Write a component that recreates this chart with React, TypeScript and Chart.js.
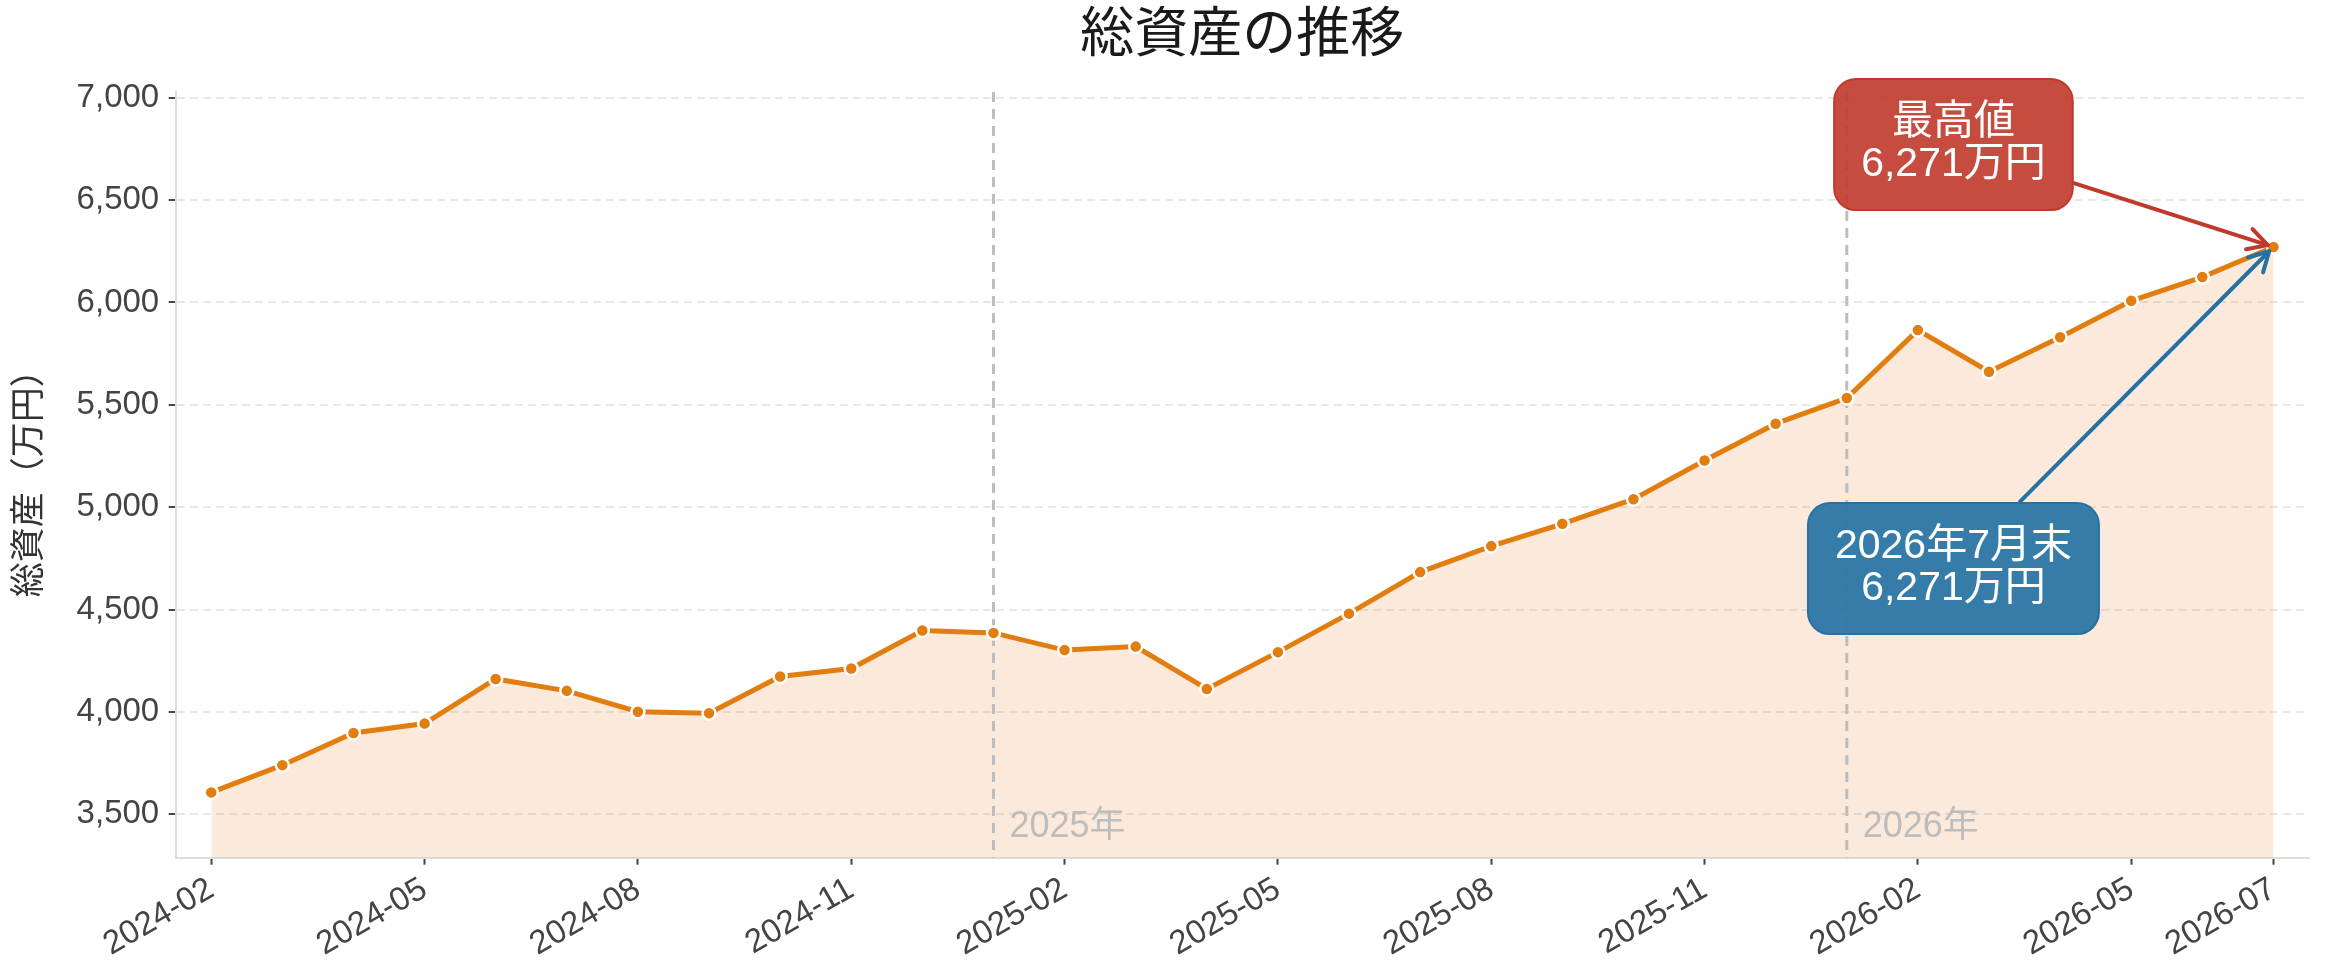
import { useEffect, useRef } from 'react';
import { Chart, registerables, type Plugin } from 'chart.js';

Chart.register(...registerables);

const FONT = '"Liberation Sans", "Noto Sans CJK JP", sans-serif';

const months = [
  '2024-02', '2024-03', '2024-04', '2024-05', '2024-06', '2024-07', '2024-08', '2024-09', '2024-10', '2024-11',
  '2024-12', '2025-01', '2025-02', '2025-03', '2025-04', '2025-05', '2025-06', '2025-07', '2025-08', '2025-09',
  '2025-10', '2025-11', '2025-12', '2026-01', '2026-02', '2026-03', '2026-04', '2026-05', '2026-06', '2026-07'
];
const totalAssets = [
  3607, 3740, 3897, 3943, 4161, 4103, 4001, 3994, 4173, 4212,
  4398, 4386, 4302, 4319, 4112, 4292, 4480, 4683, 4810, 4919,
  5039, 5228, 5408, 5533, 5865, 5662, 5830, 6008, 6124, 6271
];
const xTickIdx = [0, 3, 6, 9, 12, 15, 18, 21, 24, 27, 29];
const yTicks = [3500, 4000, 4500, 5000, 5500, 6000, 6500, 7000];
const yearLineIdx = [11, 23];
const yearLabels = ['2025年', '2026年'];

const calloutTexts = [['最高値', '6,271万円'], ['2026年7月末', '6,271万円']];
const calloutX = [24.5, 24.5];
const calloutY = [6771, 4700];
const calloutFill = ['rgba(192,57,43,0.9)', 'rgba(40,116,166,0.93)'];
const calloutEdge = ['#c0392b', '#2a70a0'];
const calloutArrow = ['#c0392b', '#2471a3'];

const LINE = '#e27d10';

function drawArrow(ctx: CanvasRenderingContext2D, cx: number, cy: number, w: number, h: number, tx: number, ty: number, color: string) {
  const dx = tx - cx;
  const dy = ty - cy;
  const t = Math.min((w / 2) / Math.abs(dx), (h / 2) / Math.abs(dy));
  const sx = cx + dx * t;
  const sy = cy + dy * t;
  const len = Math.hypot(tx - sx, ty - sy);
  const ux = (tx - sx) / len;
  const uy = (ty - sy) / len;
  const ex = tx - ux * 6;
  const ey = ty - uy * 6;
  ctx.save();
  ctx.strokeStyle = color;
  ctx.lineWidth = 4;
  ctx.lineCap = 'round';
  ctx.lineJoin = 'round';
  ctx.beginPath();
  ctx.moveTo(sx + ux * 2, sy + uy * 2);
  ctx.lineTo(ex, ey);
  ctx.stroke();
  const a = Math.atan2(uy, ux);
  const head = 22;
  const spread = 0.5;
  ctx.beginPath();
  ctx.moveTo(ex - head * Math.cos(a - spread), ey - head * Math.sin(a - spread));
  ctx.lineTo(ex, ey);
  ctx.lineTo(ex - head * Math.cos(a + spread), ey - head * Math.sin(a + spread));
  ctx.stroke();
  ctx.restore();
}

// year dividers go over the fill but under the line and markers
const decorPlugin: Plugin<'line'> = {
  id: 'decor',
  beforeDatasetsDraw(chart) {
    const { ctx, chartArea, scales } = chart;
    ctx.save();
    yearLineIdx.forEach((idx, i) => {
      const x = scales.x.getPixelForValue(idx);
      ctx.strokeStyle = '#bdbdbd';
      ctx.lineWidth = 3;
      ctx.setLineDash([10, 7]);
      ctx.beginPath();
      ctx.moveTo(x, chartArea.top);
      ctx.lineTo(x, chartArea.bottom);
      ctx.stroke();
      ctx.fillStyle = '#bdbdbd';
      ctx.font = `36px ${FONT}`;
      ctx.textAlign = 'left';
      ctx.textBaseline = 'alphabetic';
      ctx.fillText(yearLabels[i], x + 16, chartArea.bottom - 21);
    });
    ctx.restore();
  },
  afterDatasetsDraw(chart) {
    const { ctx, scales } = chart;
    const last = totalAssets.length - 1;
    const tx = scales.x.getPixelForValue(last);
    const ty = scales.y.getPixelForValue(totalAssets[last]);
    ctx.save();
    ctx.font = `41px ${FONT}`;
    calloutTexts.forEach((lines, i) => {
      const cx = scales.x.getPixelForValue(calloutX[i]);
      const cy = scales.y.getPixelForValue(calloutY[i]);
      const tw = Math.max(...lines.map(l => ctx.measureText(l).width));
      const w = tw + 54;
      const h = 131;
      drawArrow(ctx, cx, cy, w, h, tx, ty, calloutArrow[i]);
      ctx.beginPath();
      ctx.roundRect(cx - w / 2, cy - h / 2, w, h, 22);
      ctx.fillStyle = calloutFill[i];
      ctx.fill();
      ctx.lineWidth = 2;
      ctx.strokeStyle = calloutEdge[i];
      ctx.stroke();
      ctx.fillStyle = '#ffffff';
      ctx.textAlign = 'center';
      ctx.textBaseline = 'middle';
      ctx.fillText(lines[0], cx, cy - 22);
      ctx.fillText(lines[1], cx, cy + 20);
    });
    ctx.restore();
  }
};

export default function App() {
  const canvasRef = useRef<HTMLCanvasElement>(null);
  const chartRef = useRef<Chart<'line'> | null>(null);

  useEffect(() => {
    document.body.style.margin = '0';
    document.body.style.overflow = 'hidden';
    chartRef.current?.destroy();
    const canvas = canvasRef.current;
    if (!canvas) {
      return;
    }

    chartRef.current = new Chart(canvas, {
      type: 'line',
      data: {
        labels: months,
        datasets: [
          {
            data: totalAssets.map((v, i) => ({ x: i, y: v })),
            borderColor: LINE,
            borderWidth: 5,
            backgroundColor: 'rgba(230,126,34,0.16)',
            fill: 'start',
            pointRadius: 6.5,
            pointBorderWidth: 2.5,
            pointBackgroundColor: LINE,
            pointBorderColor: '#ffffff',
            tension: 0
          }
        ]
      },
      options: {
        responsive: false,
        animation: false,
        layout: { padding: { left: 0, right: 17, top: 0, bottom: 0 } },
        plugins: {
          legend: { display: false },
          tooltip: { enabled: false },
          filler: { drawTime: 'beforeDatasetsDraw' },
          title: {
            display: true,
            text: '総資産の推移',
            fullSize: false,
            color: '#1a1a1a',
            font: { family: FONT, size: 54, weight: 'normal' },
            padding: { top: 4.6, bottom: 22.6 }
          }
        },
        scales: {
          x: {
            type: 'linear',
            min: -0.5,
            max: 29.5,
            afterBuildTicks: scale => {
              scale.ticks = xTickIdx.map(v => ({ value: v }));
            },
            afterFit: scale => {
              scale.height = 117.3;
            },
            ticks: {
              autoSkip: false,
              minRotation: 30,
              maxRotation: 30,
              padding: 5,
              color: '#444444',
              font: { family: FONT, size: 33 },
              callback: value => months[Number(value)] ?? ''
            },
            grid: {
              drawOnChartArea: false,
              drawTicks: true,
              tickLength: 7,
              tickWidth: 2,
              tickColor: '#444444'
            },
            border: { color: '#dddddd', width: 2 }
          },
          y: {
            min: 3288,
            max: 7028,
            afterBuildTicks: scale => {
              scale.ticks = yTicks.map(v => ({ value: v }));
            },
            afterFit: scale => {
              scale.width = 175.7;
            },
            ticks: {
              padding: 9.5,
              color: '#444444',
              font: { family: FONT, size: 33 },
              callback: value => Number(value).toLocaleString('en-US')
            },
            grid: {
              color: '#e8e8e8',
              lineWidth: 2,
              tickLength: 7,
              tickWidth: 2,
              tickColor: '#444444',
              tickBorderDash: []
            },
            border: { color: '#dddddd', width: 2, dash: [8, 5] },
            title: {
              display: true,
              text: '総資産（万円）',
              color: '#333333',
              font: { family: FONT, size: 35 },
              padding: { top: 9, bottom: 0 }
            }
          }
        }
      },
      plugins: [decorPlugin]
    });

    return () => {
      chartRef.current?.destroy();
      chartRef.current = null;
    };
  }, []);

  return (
    <div style={{ width: 2326, height: 975 }}>
      <canvas ref={canvasRef} width={2326} height={975} style={{ display: 'block' }} />
    </div>
  );
}
